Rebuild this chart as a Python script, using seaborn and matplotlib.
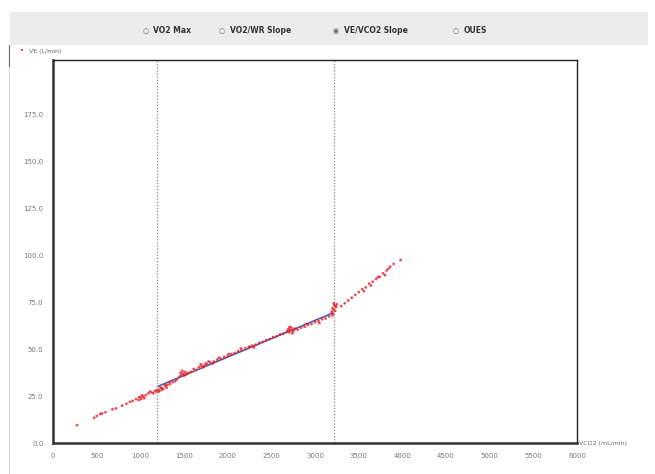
import numpy as np
import pandas as pd
import seaborn as sns
import matplotlib
matplotlib.use("Agg")
import matplotlib.pyplot as plt
from matplotlib.patches import Rectangle
from matplotlib.lines import Line2D

# VCO2 (mL/min) and VE (L/min)
vco2_low = [275, 470, 500, 540, 560, 600, 680, 720, 790, 840, 880, 910, 950, 980,
            1000, 1030, 1060, 1090, 1130, 1170,
            985, 1010, 1020, 1045, 1110, 1150, 1180]
ve_low = [9.6, 13.5, 14.5, 15.5, 15.8, 16.5, 18, 18.5, 20, 21, 22, 22.5, 23.5, 23,
          24.5, 24.8, 25.5, 26.5, 27, 28,
          24.5, 23.5, 25.5, 24, 27.5, 26.5, 27.5]

vco2_mid = [1200, 1220, 1240, 1260, 1290, 1310, 1340, 1370, 1400, 1420, 1450, 1470,
            1490, 1520, 1550, 1580, 1610, 1640, 1670, 1700, 1730, 1760, 1800, 1840,
            1880, 1920, 1960, 2000, 2040, 2080, 2120, 2160, 2200, 2240, 2280, 2320,
            2360, 2400, 2440, 2480, 2520, 2560, 2600, 2640, 2680, 2700, 2720, 2740,
            2760, 2800, 2840, 2880, 2920, 2960, 3000, 3040, 3080, 3120, 3160, 3200]
ve_mid = [28.5, 28, 29.5, 29, 30.5, 31, 31.5, 32.5, 33, 34, 35.5, 36.5,
          37, 36.5, 37.5, 38, 39.5, 39, 40.5, 41, 41.5, 42, 43, 43.5,
          44.5, 45, 46, 46.5, 47.5, 48, 49, 49.5, 50.5, 51, 52, 52.5,
          53.5, 54, 55, 55.5, 56.5, 57, 58, 58.5, 59.5, 61, 60, 58.5,
          60.5, 60.5, 61.5, 62, 63, 63.5, 64.5, 65, 66, 66.5, 67.5, 68]

# extra clustered readings along the slope segment
vco2_extra = [1210, 1230, 1250, 1280, 1300, 1330, 1460, 1480, 1500, 1510, 1530,
              1690, 1720, 1750, 1780, 1830, 1900, 2010, 2150, 2250, 2300, 2690,
              2705, 2710, 2730, 2750, 2770, 2900, 3050]
ve_extra = [27.5, 29.5, 28.5, 31, 29.5, 32.5, 37.5, 38.5, 36, 38, 37,
            42, 40.5, 42.5, 43.5, 42.5, 45.5, 47.5, 50.5, 51.5, 51, 60.5,
            59, 62, 61.5, 59.5, 61, 63.5, 64]

vco2_high = [3190, 3200, 3210, 3220, 3230, 3240, 3250, 3300, 3340, 3380, 3420, 3460,
             3500, 3540, 3580, 3620, 3660, 3700, 3740, 3780, 3820, 3860, 3900, 3980,
             3205, 3215, 3235, 3560, 3640, 3720, 3800, 3840]
ve_high = [70, 72, 71, 73.5, 70.5, 72.5, 74, 73, 74.5, 76, 77.5, 79,
           80.5, 82, 83, 85, 86, 87.5, 88.5, 90.5, 92, 94, 95.5, 97.5,
           69, 74.5, 73, 81, 84, 88.5, 89.5, 93]

thresholds = [1190, 3220]
x_ticks = list(range(0, 6001, 500))
y_ticks = [0, 25, 50, 75, 100, 125, 150, 175]
options = ["VO2 Max", "VO2/WR Slope", "VE/VCO2 Slope", "OUES"]
selected = "VE/VCO2 Slope"

all_df = pd.DataFrame({
    "vco2": vco2_low + vco2_mid + vco2_extra + vco2_high,
    "ve": ve_low + ve_mid + ve_extra + ve_high,
})
slope_df = pd.DataFrame({"vco2": vco2_mid + vco2_extra, "ve": ve_mid + ve_extra})

sns.set_style("white")
plt.rcParams["font.family"] = ["DejaVu Sans"]

fig = plt.figure(figsize=(6.55, 4.74), dpi=100)
ax = fig.add_axes([0.081, 0.065, 0.800, 0.808])

# header band with radio buttons
fig.patches.append(Rectangle((0.015, 0.905), 0.975, 0.07, transform=fig.transFigure,
                             facecolor="#ececec", edgecolor="none", zorder=0))
opt_x = [0.222, 0.339, 0.513, 0.696]
for xx, name in zip(opt_x, options):
    mark = "◉" if name == selected else "○"
    fig.text(xx, 0.935, mark, fontsize=5, color="#666666", va="center", ha="center")
    fig.text(xx + 0.012, 0.935, name, fontsize=5.5, fontweight="bold",
             color="#333333", va="center", ha="left")

# left panel border
fig.lines.append(Line2D([0.013, 0.013], [0.0, 0.905], transform=fig.transFigure,
                        color="#dddddd", linewidth=0.8))
fig.lines.append(Line2D([0.013, 0.013], [0.86, 0.905], transform=fig.transFigure,
                        color="#777777", linewidth=0.9))

# legend
fig.text(0.033, 0.892, "•", fontsize=5, color="#e8202a", va="center", ha="center")
fig.text(0.045, 0.892, "VE (L/min)", fontsize=4.5, color="#666666", va="center")

sns.regplot(data=slope_df, x="vco2", y="ve", ax=ax, scatter=False, ci=None,
            truncate=True, line_kws={"color": "#4455aa", "linewidth": 1.1, "zorder": 3})
sns.scatterplot(data=all_df, x="vco2", y="ve", ax=ax, color="#e8202a", s=4,
                edgecolor="none", alpha=0.8, legend=False, zorder=4)

for t in thresholds:
    ax.axvline(t, color="#888888", linestyle=(0, (1, 1.5)), linewidth=0.9, zorder=2)

ax.set_xlim(0, 6000)
ax.set_ylim(0, 204)
ax.set_xticks(x_ticks)
ax.set_xticklabels([str(v) for v in x_ticks])
ax.set_yticks(y_ticks)
ax.set_yticklabels([f"{v:.1f}" for v in y_ticks])
ax.tick_params(axis="both", labelsize=5, colors="#777777", length=3, width=0.8,
               direction="out", pad=4)
ax.tick_params(axis="both", color="#333333")
ax.set_xlabel("")
ax.set_ylabel("")

for side in ["left", "bottom"]:
    ax.spines[side].set_linewidth(1.8)
    ax.spines[side].set_color("#333333")
for side in ["top", "right"]:
    ax.spines[side].set_linewidth(1.0)
    ax.spines[side].set_color("#222222")

fig.text(0.884, 0.065, "VCO2 (mL/min)", fontsize=4.5, color="#666666",
         va="center", ha="left")

fig.savefig("out.png", dpi=100)
